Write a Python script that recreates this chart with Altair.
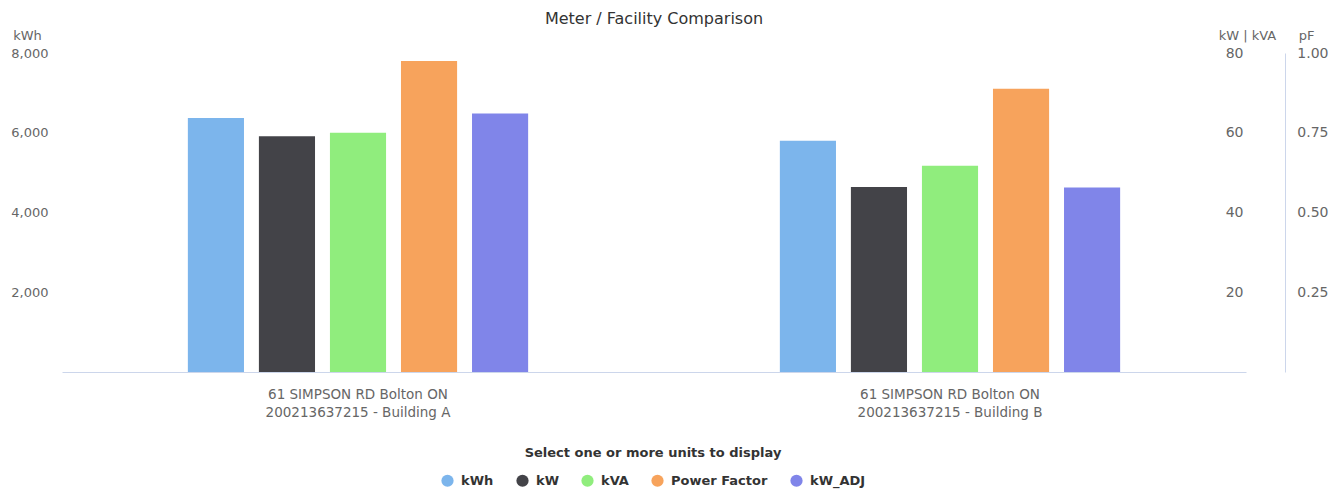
import altair as alt
import pandas as pd

buildings = [
    "61 SIMPSON RD Bolton ON\n200213637215 - Building A",
    "61 SIMPSON RD Bolton ON\n200213637215 - Building B",
]
series = ["kWh", "kW", "kVA", "Power Factor", "kW_ADJ"]
colors = ["#7cb5ec", "#434348", "#90ed7d", "#f7a35c", "#8085e9"]

kwh = [6370, 5800]
kw = [59.1, 46.4]
kva = [60.0, 51.7]
pf = [0.975, 0.888]
kw_adj = [64.8, 46.3]

rows = []
for i, b in enumerate(buildings):
    rows.append({"building": b, "series": "kWh", "value": kwh[i]})
    rows.append({"building": b, "series": "kW", "value": kw[i]})
    rows.append({"building": b, "series": "kVA", "value": kva[i]})
    rows.append({"building": b, "series": "Power Factor", "value": pf[i]})
    rows.append({"building": b, "series": "kW_ADJ", "value": kw_adj[i]})
df = pd.DataFrame(rows)

LABEL_FONT = "DejaVu Sans"
GREY = "#666666"

base = alt.Chart(df).encode(
    x=alt.X(
        "building:N",
        sort=buildings,
        scale=alt.Scale(paddingInner=0.4, paddingOuter=0.2),
        axis=alt.Axis(
            title=None,
            labelAngle=0,
            labelExpr="split(datum.label, '\\n')",
            domainColor="#ccd6eb",
            ticks=False,
            labelPadding=15,
            labelBaseline="top",
            labelFontSize=13.5,
            labelFont=LABEL_FONT,
            labelColor=GREY,
            labelLineHeight=18,
            labelLimit=400,
        ),
    ),
    xOffset=alt.XOffset(
        "series:N",
        sort=series,
        scale=alt.Scale(domain=series, paddingInner=0.21, paddingOuter=0.105),
    ),
    color=alt.Color(
        "series:N",
        scale=alt.Scale(domain=series, range=colors),
        legend=alt.Legend(
            title="Select one or more units to display",
            orient="none",
            legendX=379,
            legendY=394,
            direction="horizontal",
            titleAnchor="middle",
            titleFont=LABEL_FONT,
            titleFontSize=13,
            titleFontWeight="bold",
            titleColor="#333333",
            titlePadding=14,
            titleLimit=500,
            labelFont=LABEL_FONT,
            labelFontSize=13,
            labelFontWeight="bold",
            labelColor="#333333",
            labelLimit=300,
            symbolType="circle",
            symbolSize=150,
            symbolStrokeWidth=0,
            symbolOpacity=1,
            labelOffset=7,
            columnPadding=22,
            padding=0,
        ),
    ),
)

kwh_layer = base.transform_filter(alt.datum.series == "kWh").mark_bar(opacity=1).encode(
    y=alt.Y(
        "value:Q",
        scale=alt.Scale(domain=[0, 8000], nice=False),
        axis=alt.Axis(
            title="kWh",
            orient="left",
            values=[2000, 4000, 6000, 8000],
            format=",.0f",
            grid=False,
            domain=False,
            ticks=False,
            labelPadding=14,
            labelFont=LABEL_FONT,
            labelFontSize=13,
            labelColor=GREY,
            titleAngle=0,
            titleX=-35,
            titleY=-18,
            titleAlign="center",
            titleBaseline="middle",
            titleFont=LABEL_FONT,
            titleFontSize=13,
            titleFontWeight="normal",
            titleColor=GREY,
        ),
    )
)

kw_layer = base.transform_filter(
    alt.FieldOneOfPredicate(field="series", oneOf=["kW", "kVA", "kW_ADJ"])
).mark_bar(opacity=1).encode(
    y=alt.Y(
        "value:Q",
        scale=alt.Scale(domain=[0, 80], nice=False),
        axis=alt.Axis(
            title="kW | kVA",
            orient="right",
            values=[20, 40, 60, 80],
            grid=False,
            domain=False,
            ticks=False,
            tickSize=0,
            labelAlign="right",
            labelPadding=-3,
            labelFont=LABEL_FONT,
            labelFontSize=14,
            labelColor=GREY,
            titleAngle=0,
            titleX=1,
            titleY=-18,
            titleAlign="center",
            titleBaseline="middle",
            titleFont=LABEL_FONT,
            titleFontSize=13,
            titleFontWeight="normal",
            titleColor=GREY,
        ),
    )
)

pf_layer = base.transform_filter(alt.datum.series == "Power Factor").mark_bar(opacity=1).encode(
    y=alt.Y(
        "value:Q",
        scale=alt.Scale(domain=[0, 1], nice=False),
        axis=alt.Axis(
            title="pF",
            orient="right",
            offset=39,
            values=[0.25, 0.5, 0.75, 1.0],
            format=".2f",
            grid=False,
            domain=True,
            domainColor="#ccd6eb",
            ticks=False,
            tickSize=0,
            labelAlign="right",
            labelPadding=43,
            labelFont=LABEL_FONT,
            labelFontSize=14,
            labelColor=GREY,
            titleAngle=0,
            titleX=21,
            titleY=-18,
            titleAlign="center",
            titleBaseline="middle",
            titleFont=LABEL_FONT,
            titleFontSize=13,
            titleFontWeight="normal",
            titleColor=GREY,
        ),
    )
)

chart = (
    alt.layer(kwh_layer, kw_layer, pf_layer)
    .resolve_scale(y="independent")
    .properties(
        width=1184,
        height=319,
        autosize=alt.AutoSizeParams(type="none"),
        padding={"left": 54, "top": 45, "right": 86, "bottom": 118},
        title=alt.TitleParams(
            "Meter / Facility Comparison",
            font=LABEL_FONT,
            fontSize=16,
            fontWeight="normal",
            color="#333333",
            anchor="middle",
            offset=2,
        ),
    )
    .configure_view(stroke="transparent")
)

chart.save("out.html", embed_options={"renderer": "svg", "actions": False})
